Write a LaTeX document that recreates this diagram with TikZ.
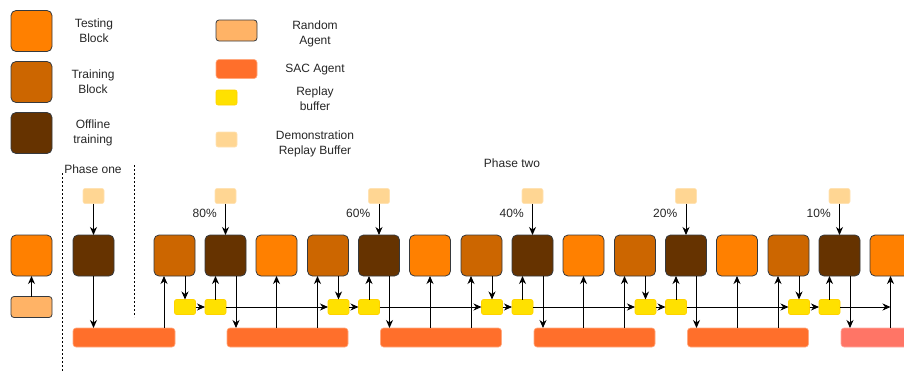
\documentclass[tikz,border=0pt]{standalone}
\usepackage{fontspec}
\setmainfont{Liberation Sans}
\usetikzlibrary{arrows.meta,calc,positioning}
\definecolor{TestOrange}{HTML}{FF8000}
\definecolor{TrainBrown}{HTML}{CC6600}
\definecolor{OffBrown}{HTML}{663300}
\definecolor{RandPeach}{HTML}{FFB366}
\definecolor{SACred}{HTML}{FF6F2B}
\definecolor{SACsalmon}{HTML}{FF7566}
\definecolor{ReplayYellow}{HTML}{FFE100}
\definecolor{DemoCream}{HTML}{FFD693}
\definecolor{EdgeGray}{HTML}{36393D}

\begin{document}
\begin{tikzpicture}[
  x=1pt,y=-1pt,
  font=\fontsize{12}{15}\selectfont,
  text=black!85,
  blk/.style={draw=EdgeGray,line width=0.8pt,rounded corners=5pt,minimum width=41pt,minimum height=41pt,inner sep=0pt,outer sep=0pt},
  testblk/.style={blk,fill=TestOrange},
  trainblk/.style={blk,fill=TrainBrown},
  offblk/.style={blk,fill=OffBrown},
  randagent/.style={draw=EdgeGray,line width=0.8pt,fill=RandPeach,rounded corners=3pt,minimum width=41pt,minimum height=21pt,inner sep=0pt,outer sep=0pt},
  sacbar/.style={draw=SACred!60!white,line width=0.6pt,fill=SACred,rounded corners=3pt,minimum height=19pt,inner sep=0pt,outer sep=0pt},
  replay/.style={draw=ReplayYellow!85!orange,line width=0.6pt,fill=ReplayYellow,rounded corners=2pt,minimum width=21pt,minimum height=15pt,inner sep=0pt,outer sep=0pt},
  demo/.style={draw=DemoCream!70!white,line width=0.6pt,fill=DemoCream,rounded corners=2pt,minimum width=21pt,minimum height=15pt,inner sep=0pt,outer sep=0pt},
  lbl/.style={align=center},
  sep/.style={line width=0.8pt,dash pattern=on 2pt off 2pt},
  arr/.style={-{Stealth[length=8pt,width=7pt,inset=2.5pt]},line width=0.9pt}
]
\clip (0,0) rectangle (904,372);

% legend
\node[testblk] (legtest) at (31.5,31) {};
\node[lbl] (legtesttxt) at (94,30.5) {Testing\\Block};
\node[trainblk] (legtrain) at (31.5,82) {};
\node[lbl] (legtraintxt) at (93,82) {Training\\Block};
\node[offblk] (legoff) at (31.5,133) {};
\node[lbl] (legofftxt) at (93,133) {Offline\\training};
\node[randagent] (legrand) at (236.5,30.5) {};
\node[lbl] (legrandtxt) at (315,33.5) {Random\\Agent};
\node[sacbar,minimum width=41pt] (legsac) at (236.5,69) {};
\node[lbl] (legsactxt) at (315,70) {SAC Agent};
\node[replay] (legrepl) at (226.5,97.5) {};
\node[lbl] (legrepltxt) at (315,98.5) {Replay\\buffer};
\node[demo] (legdemo) at (226.5,139.5) {};
\node[lbl] (legdemotxt) at (315,144) {Demonstration\\Replay Buffer};

% random agent test
\node[testblk] (testR) at (31.5,255.5) {};
\node[randagent] (randR) at (31.5,307) {};
\draw[arr] (randR) -- (testR);

% phase one
\draw[sep] (62,173) -- (62,372);
\draw[sep] (134,165) -- (134,317);
\node (phone) at (93,169) {Phase one};
\node[demo] (demoA) at (93.5,196) {};
\node[offblk] (offA) at (93.5,255.5) {};
\node[sacbar,minimum width=102pt] (sacA) at (124,337.5) {};
\draw[arr] (demoA) -- (offA);
\draw[arr] (offA) -- (offA |- sacA.north);

% phase two
\node (phtwo) at (512,163) {Phase two};
\foreach \i/\p in {0/80,1/60,2/40,3/20,4/10} {
  \pgfmathsetmacro\bx{154+153.5*\i}
  \node[trainblk] (train\i) at (\bx+20.5,255.5) {};
  \node[offblk] (off\i) at (\bx+71.5,255.5) {};
  \node[testblk] (test\i) at (\bx+122.5,255.5) {};
  \node[demo] (demo\i) at (\bx+71.5,196) {};
  \node[replay] (rbA\i) at (\bx+31,307) {};
  \node[replay] (rbB\i) at (\bx+61.5,307) {};
  \draw[arr] (demo\i) -- node[left,pos=0.3,xshift=-5pt]{\p\%} (off\i);
  \draw[arr] ([xshift=10.5pt]train\i.south) -- (rbA\i);
  \draw[arr] (rbA\i) -- (rbB\i);
  \draw[arr] (rbB\i) -- (rbB\i |- off\i.south);
}
\foreach \i in {0,1,2,3}
  \node[sacbar,minimum width=121pt] (sac\i) at (154+153.5*\i+133.5,337.5) {};
\node[sacbar,fill=SACsalmon,draw=SACsalmon!60!white,minimum width=121pt] (sac4) at (154+153.5*4+133.5,337.5) {};

\draw[arr] ([xshift=-10.5pt]train0.south |- sacA.north) -- ([xshift=-10.5pt]train0.south);
\foreach \i in {0,...,4} {
  \draw[arr] ([xshift=10.5pt]off\i.south) -- ([xshift=10.5pt]off\i.south |- sac\i.north);
  \draw[arr] (sac\i.north -| test\i) -- (test\i);
}
\foreach \i/\j in {0/1,1/2,2/3,3/4} {
  \draw[arr] ([xshift=-10.5pt]train\j.south |- sac\i.north) -- ([xshift=-10.5pt]train\j.south);
  \draw[arr] (rbB\i) -- (rbA\j);
}
\coordinate (rbend) at (test4 |- rbB4);
\draw[arr] (rbB4) -- (rbend);
\end{tikzpicture}
\end{document}
